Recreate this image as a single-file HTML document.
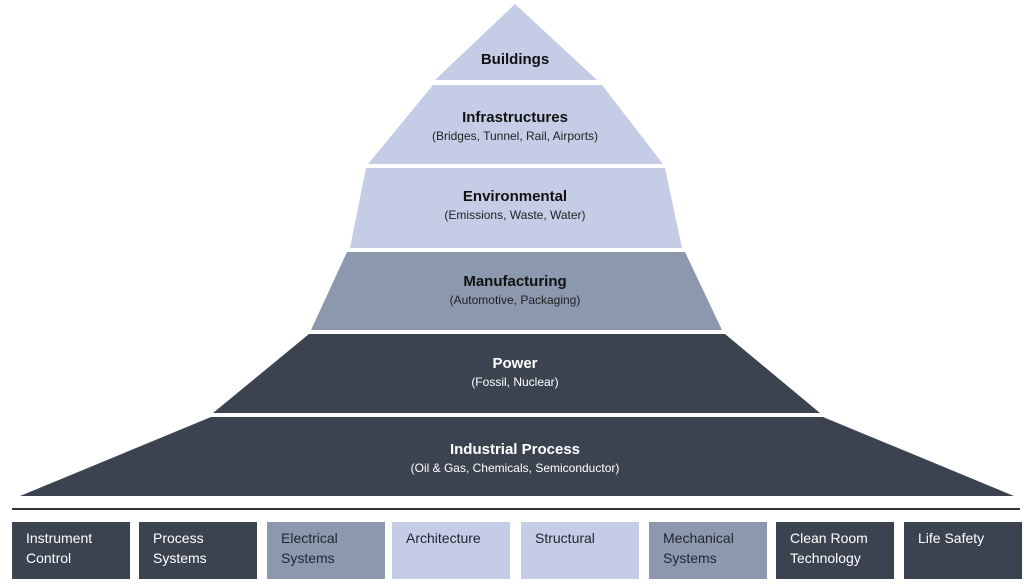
<!DOCTYPE html>
<html><head><meta charset="utf-8"><style>
body{margin:0;background:#fff;width:1024px;height:584px;overflow:hidden;position:relative;font-family:"Liberation Sans",sans-serif}
svg{position:absolute;left:0;top:0}
.b{position:absolute;top:522px;width:118px;height:57px;box-sizing:border-box;padding:6px 0 0 14px;font-size:14px;line-height:20px}
.d{background:#3b4350;color:#fff}.m{background:#8c98ae;color:#1f2530}.l{background:#c5cde6;color:#1f2530}
</style></head><body>
<svg width="1024" height="584" font-family="Liberation Sans, sans-serif" text-anchor="middle">
<polygon points="515,4 597,80 435,80" fill="#c5cde6"/>
<polygon points="433,85 602,85 663,164 368,164" fill="#c5cde6"/>
<polygon points="366,168 665,168 682,248 350,248" fill="#c5cde6"/>
<polygon points="347,252 685,252 722,330 311,330" fill="#8c98ae"/>
<polygon points="309,334 725,334 820,413 213,413" fill="#3b4350"/>
<polygon points="211,417 823,417 1014,496 20,496" fill="#3b4350"/>
<line x1="12" y1="509" x2="1020" y2="509" stroke="#333" stroke-width="2"/>
<g font-weight="bold" font-size="15" fill="#111">
<text x="515" y="64">Buildings</text>
<text x="515" y="122">Infrastructures</text>
<text x="515" y="201">Environmental</text>
<text x="515" y="286">Manufacturing</text>
<text x="515" y="368" fill="#fff">Power</text>
<text x="515" y="454" fill="#fff">Industrial Process</text>
</g>
<g font-size="12" fill="#222">
<text x="515" y="140">(Bridges, Tunnel, Rail, Airports)</text>
<text x="515" y="219">(Emissions, Waste, Water)</text>
<text x="515" y="304">(Automotive, Packaging)</text>
<text x="515" y="386" fill="#fff">(Fossil, Nuclear)</text>
<text x="515" y="472" fill="#fff">(Oil &amp; Gas, Chemicals, Semiconductor)</text>
</g>
</svg>
<div class="b d" style="left:12px">Instrument<br>Control</div>
<div class="b d" style="left:139px">Process<br>Systems</div>
<div class="b m" style="left:267px">Electrical<br>Systems</div>
<div class="b l" style="left:392px">Architecture</div>
<div class="b l" style="left:521px">Structural</div>
<div class="b m" style="left:649px">Mechanical<br>Systems</div>
<div class="b d" style="left:776px">Clean Room<br>Technology</div>
<div class="b d" style="left:904px">Life Safety</div>
</body></html>
